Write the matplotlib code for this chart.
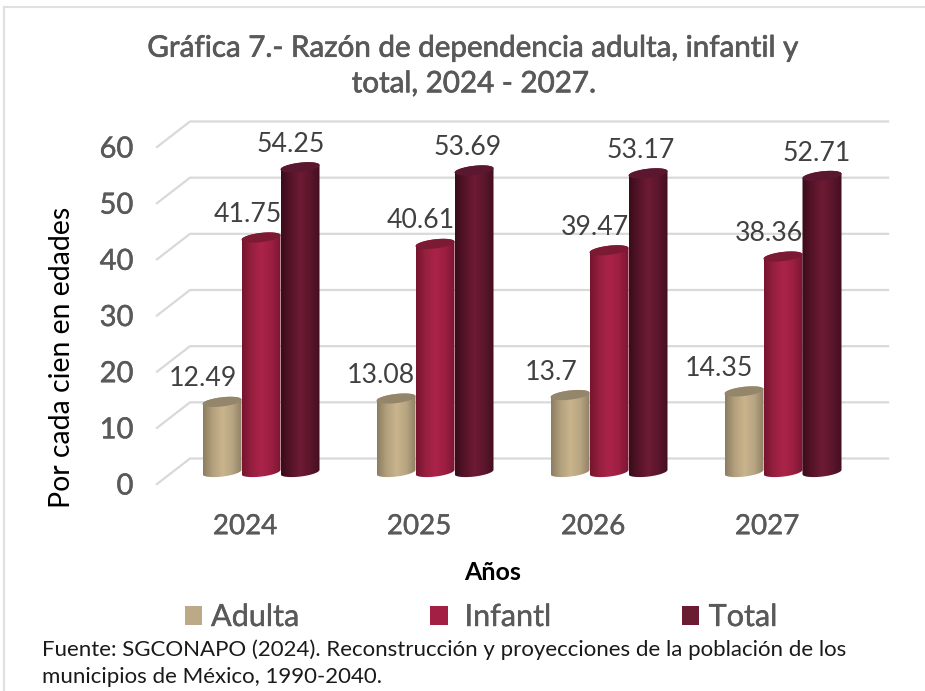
import matplotlib

matplotlib.use("Agg")
import matplotlib.patheffects as pe
import matplotlib.pyplot as plt
import numpy as np
from matplotlib.colors import LinearSegmentedColormap
from matplotlib.patches import Patch, PathPatch
from matplotlib.path import Path

years = ["2024", "2025", "2026", "2027"]
series_names = ["Adulta", " Infantl", "Total"]
adulta = [12.49, 13.08, 13.7, 14.35]
infantil = [41.75, 40.61, 39.47, 38.36]
total = [54.25, 53.69, 53.17, 52.71]
y_ticks = [0, 10, 20, 30, 40, 50, 60]

title = "Gráfica 7.- Razón de dependencia adulta, infantil y\ntotal, 2024 - 2027."
source = (
    "Fuente: SGCONAPO (2024). Reconstrucción y proyecciones de la población de los\n"
    "municipios de México, 1990-2040."
)

FONT = "Lato"
GRAY = "#595959"
LEGEND_COLORS = ["#bca987", "#a41f44", "#691c32"]
GRADIENTS = [
    ["#8c7d60", "#b3a17e", "#c9b48d", "#b8a683", "#8f8064"],
    ["#761430", "#96203f", "#ac2349", "#9c1f42", "#7a1632"],
    ["#3a0c1a", "#561429", "#6e1b35", "#5c162c", "#430f20"],
]
TOP_COLORS = ["#94866a", "#7d1a33", "#5c1730"]

W, H = 925, 691
plt.rcParams["font.family"] = [FONT, "DejaVu Sans"]

fig = plt.figure(figsize=(W / 100, H / 100), dpi=100)
ax = fig.add_axes([157 / W, (H - 484) / H, 698 / W, 337 / H])
ax.set_xlim(-88 / 174, 610 / 174)
ax.set_ylim(0, 60)

px_x = 1 / 174  # one pixel in x units
px_y = 60 / 337  # one pixel in y units

# Lato has no medium weight here, a thin stroke thickens the regular one
medium = [pe.withStroke(linewidth=0.3, foreground=GRAY)]


def draw_cylinder(ax, cx, base, value, half_w, cmap, top_color, zorder):
    """Draw one shaded cylinder standing on base and reaching base + value."""
    rx = half_w
    ry = 4.6 * px_y
    tilt = 2.2 * px_y / half_w

    t = np.linspace(np.pi, 2 * np.pi, 40)
    low_x = cx + rx * np.cos(t)
    low_y = base + ry * np.sin(t) + tilt * (low_x - cx)
    t = np.linspace(0, np.pi, 40)
    up_x = cx + rx * np.cos(t)
    up_y = base + value + ry * np.sin(t) + tilt * (up_x - cx)

    verts = np.vstack(
        [np.column_stack([low_x, low_y]), np.column_stack([up_x, up_y]), [low_x[0], low_y[0]]]
    )
    codes = [Path.MOVETO] + [Path.LINETO] * (len(verts) - 2) + [Path.CLOSEPOLY]
    shape = PathPatch(Path(verts, codes), facecolor="none", edgecolor="none", zorder=zorder)
    ax.add_patch(shape)

    im = ax.imshow(
        np.linspace(0, 1, 128).reshape(1, -1),
        cmap=cmap,
        aspect="auto",
        extent=[cx - rx, cx + rx, base - 2, base + value + 2],
        zorder=zorder,
    )
    im.set_clip_path(shape)

    # top cap, sheared a bit like the picture
    t = np.linspace(0, 2 * np.pi, 80)
    cap_x = cx + rx * np.cos(t)
    cap_y = base + value + ry * np.sin(t) + tilt * (cap_x - cx)
    ax.fill(cap_x, cap_y, color=top_color, lw=0, zorder=zorder + 0.1)


# grid in fake perspective: short diagonal then long back line
depth_x = 33 * px_x
depth_y = 25.5 * px_y
x0, x1 = ax.get_xlim()
for v in y_ticks:
    ax.plot(
        [x0, x0 + depth_x, x1 + depth_x],
        [v, v + depth_y, v + depth_y],
        color="#d9d9d9",
        lw=1.6,
        clip_on=False,
        zorder=1,
    )

# bars
bar_w = 39 * px_x
bar_shift = 16 * px_x
bar_base = 12 * px_y
label_dx = [[-19, -13, -9], [-15, -14, -6], [-19, -14, -7], [-25, -14, -5]]
values = [adulta, infantil, total]

for s, vals in enumerate(values):
    cmap = LinearSegmentedColormap.from_list(f"cyl{s}", GRADIENTS[s])
    for i, val in enumerate(vals):
        cx = i + bar_shift + (s - 1) * bar_w
        draw_cylinder(ax, cx, bar_base, val, bar_w / 2, cmap, TOP_COLORS[s], 3 + s)
        ax.annotate(
            str(val),
            (cx, bar_base + val),
            xytext=(label_dx[i][s] * 0.72, 16.5),
            textcoords="offset points",
            ha="center",
            va="center",
            fontsize=19.2,
            color="#404040",
            zorder=10,
        )

ax.set_xlim(x0, x1)
ax.set_ylim(0, 60)

for spine in ax.spines.values():
    spine.set_visible(False)
ax.set_xticks(range(len(years)), years)
ax.set_yticks(y_ticks)
ax.tick_params(length=0)
ax.tick_params(axis="x", pad=21, labelsize=20, labelcolor=GRAY)
ax.tick_params(axis="y", pad=17, labelsize=21, labelcolor=GRAY)
for lab in ax.get_xticklabels() + ax.get_yticklabels():
    lab.set_path_effects(medium)

ax.set_ylabel("Por cada cien en edades", fontsize=20.4, color="black", va="center")
ax.yaxis.set_label_coords((62 - 157) / 698, (484 - 357) / 337)
ax.set_xlabel("Años", fontsize=18, fontweight="bold", color="black", va="center")
ax.xaxis.set_label_coords((493 - 157) / 698, -(572 - 484) / 337)

handles = [Patch(facecolor=c, edgecolor="none") for c in LEGEND_COLORS]
leg = fig.legend(
    handles,
    series_names,
    loc="center",
    bbox_to_anchor=(481 / W, 1 - 617 / H),
    ncols=3,
    frameon=False,
    fontsize=22,
    labelcolor=GRAY,
    handlelength=0.56,
    handleheight=0.56,
    handletextpad=0.3,
    columnspacing=4.3,
)
for txt in leg.get_texts():
    txt.set_path_effects(medium)

fig.text(474 / W, 1 - 65.5 / H, title, ha="center", va="center", fontsize=21.3, color=GRAY,
         linespacing=1.33, path_effects=[pe.withStroke(linewidth=0.5, foreground=GRAY)])
fig.text(42 / W, 1 - 663 / H, source, ha="left", va="center", fontsize=16, color="#1a1a1a",
         linespacing=1.46)

# frame lines of the original picture
fig.add_artist(plt.Line2D([4 / W, 4 / W], [0, 1 - 7 / H], color="#e0e0e0", lw=1.5))
fig.add_artist(plt.Line2D([4 / W, 1], [1 - 7 / H, 1 - 7 / H], color="#e0e0e0", lw=1.5))

fig.savefig("out.png", dpi=100)
